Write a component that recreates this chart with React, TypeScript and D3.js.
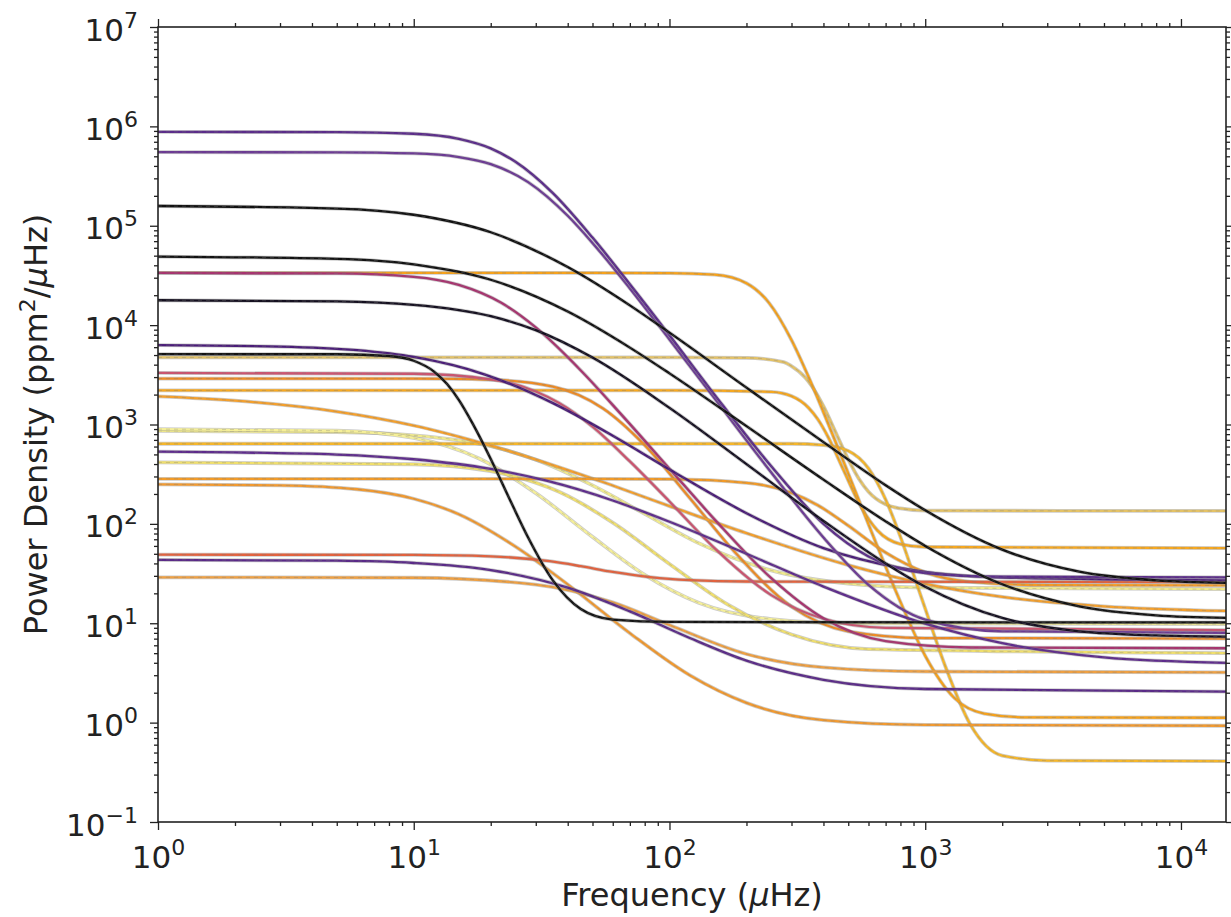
import { useEffect, useRef } from 'react';
import * as d3 from 'd3';

type Pt = [number, number];

// frequency (uHz), power density (ppm^2/uHz)
const purple1: Pt[] = [[1, 8.8e5], [5, 8.76e5], [10, 8.43e5], [15, 7.48e5], [20, 6.0e5], [25, 4.4e5], [35, 2.13e5], [50, 7.6e4], [70, 2.58e4], [100, 7.9e3], [150, 2.0e3], [250, 380], [400, 100], [600, 47], [1000, 32], [2000, 29.4], [15000, 29]];
const purple2: Pt[] = [[1, 5.5e5], [5, 5.48e5], [10, 5.34e5], [15, 4.91e5], [20, 4.17e5], [28, 2.75e5], [40, 1.26e5], [50, 6.72e4], [70, 2.34e4], [100, 7.16e3], [150, 1.83e3], [250, 329], [400, 73], [600, 24.4], [1000, 10.9], [2000, 8.3], [15000, 8]];
const black1: Pt[] = [[1, 1.58e5], [5, 1.49e5], [10, 1.29e5], [20, 8.6e4], [40, 3.84e4], [70, 1.58e4], [100, 8.4e3], [200, 2.35e3], [400, 665], [700, 245], [1000, 137], [2000, 55], [4000, 33], [8000, 27], [15000, 25.5]];
const black2: Pt[] = [[1, 4.9e4], [5, 4.64e4], [10, 4.09e4], [20, 2.86e4], [40, 1.37e4], [70, 5.94e3], [100, 3.27e3], [200, 962], [400, 279], [700, 106], [1000, 60], [2000, 24.7], [4000, 14.8], [8000, 12], [15000, 11.3]];
const black3: Pt[] = [[1, 1.78e4], [5, 1.73e4], [10, 1.6e4], [20, 1.23e4], [30, 8.9e3], [50, 4.71e3], [100, 1.47e3], [200, 399], [400, 107], [700, 40], [1000, 23.3], [2000, 11.3], [4000, 8.3], [8000, 7.55], [15000, 7.35]];
const black4: Pt[] = [[1, 5.1e3], [5, 5.09e3], [8, 4.89e3], [10, 4.38e3], [12, 3.41e3], [13.5, 2.55e3], [15, 1.77e3], [17, 1.02e3], [20, 450], [24, 166], [28, 73], [35, 27], [45, 13.9], [60, 10.9], [100, 10.3], [15000, 10.2]];
const orange1: Pt[] = [[1, 3.35e4], [50, 3.35e4], [100, 3.34e4], [150, 3.22e4], [200, 2.64e4], [245, 1.675e4], [300, 7.08e3], [350, 3.0e3], [400, 1.33e3], [500, 322], [600, 99], [800, 16.4], [1000, 4.7], [1300, 1.77], [1700, 1.235], [2500, 1.13], [15000, 1.12]];
const pinkHigh: Pt[] = [[1, 3.35e4], [5, 3.31e4], [10, 3.06e4], [15, 2.54e4], [22, 1.675e4], [30, 9.47e3], [45, 3.5e3], [65, 1.25e3], [100, 359], [150, 111], [250, 28.4], [400, 11.2], [700, 6.6], [1500, 5.7], [15000, 5.6]];
const pinkLow: Pt[] = [[1, 3.3e3], [10, 3.24e3], [20, 2.85e3], [30, 2.15e3], [37, 1.65e3], [50, 951], [70, 425], [100, 168], [150, 57], [250, 19.2], [400, 11.1], [700, 9], [15000, 8.5]];
const purple3: Pt[] = [[1, 6.29e3], [3, 6.09e3], [6, 5.59e3], [10, 4.78e3], [19, 3.18e3], [35, 1.64e3], [60, 771], [100, 353], [200, 128], [400, 57], [800, 36], [2000, 28.8], [15000, 27]];
const khaki: Pt[] = [[1, 4.73e3], [100, 4.73e3], [200, 4.69e3], [280, 4.25e3], [300, 3.87e3], [340, 2.96e3], [360, 2.44e3], [400, 1.53e3], [450, 796], [500, 446], [550, 285], [600, 211], [700, 157], [800, 143], [1000, 136], [15000, 135]];
const orange2: Pt[] = [[1, 2.2e3], [100, 2.2e3], [250, 2.13e3], [300, 1.93e3], [350, 1.47e3], [380, 1.13e3], [420, 723], [480, 344], [550, 163], [650, 86], [800, 62.6], [1000, 58.5], [15000, 57]];
const orange3: Pt[] = [[1, 2.9e3], [10, 2.89e3], [20, 2.82e3], [35, 2.41e3], [55, 1.45e3], [80, 620], [120, 182], [180, 52], [300, 14.7], [500, 8.3], [1000, 7.1], [15000, 7]];
const orangeSlope: Pt[] = [[1, 1.92e3], [2, 1.74e3], [5, 1.35e3], [10, 977], [20, 614], [50, 286], [100, 151], [200, 80.6], [500, 38.4], [1000, 24.9], [2000, 18.4], [5000, 14.8], [15000, 13.3]];
const orange624: Pt[] = [[1, 640], [300, 640], [400, 621], [500, 543], [600, 361], [700, 176], [800, 74], [900, 31], [1000, 14], [1200, 3.65], [1500, 0.96], [2000, 0.466], [3000, 0.415], [15000, 0.41]];
const orange283: Pt[] = [[1, 284], [50, 284], [100, 281.6], [200, 259], [300, 205], [380, 154], [500, 96], [700, 51.4], [1000, 32.5], [1500, 26.1], [3000, 24.2], [15000, 24]];
const orange250: Pt[] = [[1, 250], [3, 244], [6, 223], [10, 179], [15, 125], [25, 59], [40, 24.6], [70, 7.95], [120, 3], [200, 1.58], [400, 1.06], [1000, 0.95], [15000, 0.93]];
const red49: Pt[] = [[1, 49], [10, 48.75], [20, 47.1], [34, 42.1], [45, 37.5], [60, 32.8], [84, 29.1], [120, 27.15], [200, 26.3], [15000, 26]];
const purple43: Pt[] = [[1, 43.5], [5, 42.6], [10, 40.4], [20, 34.3], [40, 22.8], [70, 13.15], [120, 7.1], [200, 4.2], [400, 2.7], [1000, 2.18], [15000, 2.05]];
const orange29: Pt[] = [[1, 29], [10, 28.7], [30, 24.5], [60, 16.2], [100, 9.6], [200, 4.9], [400, 3.6], [1000, 3.27], [15000, 3.2]];
const purple540: Pt[] = [[1, 534], [5, 498], [10, 447], [20, 357], [33, 272], [60, 172], [100, 105], [200, 50], [400, 23.4], [1000, 9.9], [2000, 6.3], [5000, 4.54], [15000, 4.0]];
const yellow1: Pt[] = [[1, 898], [5, 865], [10, 733], [18, 455], [30, 204], [50, 74], [80, 30.7], [130, 16.1], [250, 11], [500, 10], [15000, 9.8]];
const yellow2: Pt[] = [[1, 861], [5, 839], [10, 778], [20, 604], [30, 442], [50, 244], [80, 126], [130, 64], [250, 34], [500, 25], [1000, 22.8], [15000, 22]];
const yellow3: Pt[] = [[1, 415], [10, 398], [20, 339], [37, 210], [60, 103], [100, 39.5], [170, 15.3], [300, 7.7], [600, 5.5], [15000, 5]];

const curves = [
  { points: yellow2, color: '#f1ea8c' },
  { points: yellow1, color: '#f5ef98' },
  { points: yellow3, color: '#f0df6c' },
  { points: khaki, color: '#e4c266' },
  { points: orange624, color: '#f5b62a' },
  { points: orange2, color: '#f7a81f' },
  { points: orange1, color: '#f6a21c' },
  { points: orange3, color: '#f08c24' },
  { points: orangeSlope, color: '#f5a02c' },
  { points: orange283, color: '#f39b27' },
  { points: orange250, color: '#f29a30' },
  { points: orange29, color: '#efa042' },
  { points: red49, color: '#e4623e' },
  { points: pinkLow, color: '#cd5470' },
  { points: pinkHigh, color: '#a8336f' },
  { points: purple43, color: '#5a2a88' },
  { points: purple540, color: '#5e2b8c' },
  { points: purple3, color: '#4a1c78' },
  { points: purple2, color: '#6c3a94' },
  { points: purple1, color: '#5b2c8a' },
  { points: black4, color: '#141414' },
  { points: black3, color: '#151020' },
  { points: black2, color: '#121212' },
  { points: black1, color: '#111111' },
];

const xMajor = [1, 10, 100, 1000, 10000];
const yMajor = [0.1, 1, 10, 100, 1e3, 1e4, 1e5, 1e6, 1e7];

function minorTicks(lo: number, hi: number, max: number) {
  const out: number[] = [];
  for (let e = lo; e <= hi; e++) {
    for (let k = 2; k <= 9; k++) {
      const v = k * Math.pow(10, e);
      if (v <= max) out.push(v);
    }
  }
  return out;
}

const expLabel = (v: number) => {
  const e = Math.round(Math.log10(v));
  return e < 0 ? '\u2212' + Math.abs(e) : String(e);
};

export default function App() {
  const ref = useRef<SVGSVGElement>(null);

  useEffect(() => {
    const svg = d3.select(ref.current);
    svg.selectAll('*').remove();

    const left = 158, right = 1226, top = 27, bottom = 822;
    const x = d3.scaleLog().domain([1, 15000]).range([left, right]);
    const y = d3.scaleLog().domain([0.1, 1e7]).range([bottom, top]);
    const font = 'DejaVu Sans, sans-serif';

    svg.append('defs').append('clipPath').attr('id', 'plot')
      .append('rect').attr('x', left).attr('y', top)
      .attr('width', right - left).attr('height', bottom - top);

    const line = d3.line<Pt>()
      .x(d => x(d[0]))
      .y(d => y(d[1]))
      .curve(d3.curveMonotoneX);

    const g = svg.append('g').attr('clip-path', 'url(#plot)');
    curves.forEach(c => {
      g.append('path').attr('d', line(c.points))
        .attr('fill', 'none').attr('stroke', '#8c8c8c')
        .attr('stroke-opacity', 0.45).attr('stroke-width', 3.8);
      g.append('path').attr('d', line(c.points))
        .attr('fill', 'none').attr('stroke', c.color)
        .attr('stroke-width', 2.3);
      g.append('path').attr('d', line(c.points))
        .attr('fill', 'none').attr('stroke', '#7a7a7a')
        .attr('stroke-opacity', 0.35).attr('stroke-width', 0.9)
        .attr('stroke-dasharray', '4 4');
    });

    const xMinor = minorTicks(0, 4, 15000);
    const yMinor = minorTicks(-1, 6, 1e7);

    const styleAxis = (sel: d3.Selection<SVGGElement, unknown, null, undefined>) => {
      sel.select('.domain').remove();
      sel.selectAll('.tick line').attr('stroke', '#222').attr('stroke-width', 1.3);
    };

    // bottom
    const bx = svg.append('g').attr('transform', `translate(0,${bottom})`)
      .call(d3.axisBottom(x).tickValues(xMajor).tickSize(8).tickFormat(() => ''));
    styleAxis(bx);
    bx.selectAll<SVGTextElement, number>('.tick text').each(function (d) {
      const t = d3.select(this);
      t.attr('y', 24).attr('font-size', 31).attr('font-family', font).attr('fill', '#222');
      t.append('tspan').text('10');
      t.append('tspan').attr('dy', -13).attr('font-size', 22).text(expLabel(d));
    });
    styleAxis(svg.append('g').attr('transform', `translate(0,${bottom})`)
      .call(d3.axisBottom(x).tickValues(xMinor).tickSize(4).tickFormat(() => '')));

    // top
    styleAxis(svg.append('g').attr('transform', `translate(0,${top})`)
      .call(d3.axisTop(x).tickValues(xMajor).tickSize(8).tickFormat(() => '')));
    styleAxis(svg.append('g').attr('transform', `translate(0,${top})`)
      .call(d3.axisTop(x).tickValues(xMinor).tickSize(4).tickFormat(() => '')));

    // left
    const ly = svg.append('g').attr('transform', `translate(${left},0)`)
      .call(d3.axisLeft(y).tickValues(yMajor).tickSize(8).tickPadding(12).tickFormat(() => ''));
    styleAxis(ly);
    ly.selectAll<SVGTextElement, number>('.tick text').each(function (d) {
      const t = d3.select(this);
      t.attr('dy', 13).attr('font-size', 31).attr('font-family', font).attr('fill', '#222');
      t.append('tspan').text('10');
      t.append('tspan').attr('dy', -13).attr('font-size', 22).text(expLabel(d));
    });
    styleAxis(svg.append('g').attr('transform', `translate(${left},0)`)
      .call(d3.axisLeft(y).tickValues(yMinor).tickSize(4).tickFormat(() => '')));

    // right
    styleAxis(svg.append('g').attr('transform', `translate(${right},0)`)
      .call(d3.axisRight(y).tickValues(yMajor).tickSize(8).tickFormat(() => '')));
    styleAxis(svg.append('g').attr('transform', `translate(${right},0)`)
      .call(d3.axisRight(y).tickValues(yMinor).tickSize(4).tickFormat(() => '')));

    svg.append('rect').attr('x', left).attr('y', top)
      .attr('width', right - left).attr('height', bottom - top)
      .attr('fill', 'none').attr('stroke', '#222').attr('stroke-width', 1.6);

    svg.append('text').attr('x', (left + right) / 2).attr('y', 906)
      .attr('text-anchor', 'middle').attr('font-size', 32).attr('font-family', font).attr('fill', '#222')
      .call(t => {
        t.append('tspan').text('Frequency (');
        t.append('tspan').attr('font-style', 'italic').text('\u03bc');
        t.append('tspan').text('Hz)');
      });

    svg.append('text')
      .attr('transform', `translate(47,${(top + bottom) / 2}) rotate(-90)`)
      .attr('text-anchor', 'middle').attr('font-size', 32).attr('font-family', font).attr('fill', '#222')
      .call(t => {
        t.append('tspan').text('Power Density (ppm');
        t.append('tspan').attr('dy', -12).attr('font-size', 22).text('2');
        t.append('tspan').attr('dy', 12).text('/');
        t.append('tspan').attr('font-style', 'italic').text('\u03bc');
        t.append('tspan').text('Hz)');
      });
  }, []);

  return (
    <svg ref={ref} width={1231} height={917}
      style={{ position: 'absolute', left: 0, top: 0, background: '#fff' }} />
  );
}
